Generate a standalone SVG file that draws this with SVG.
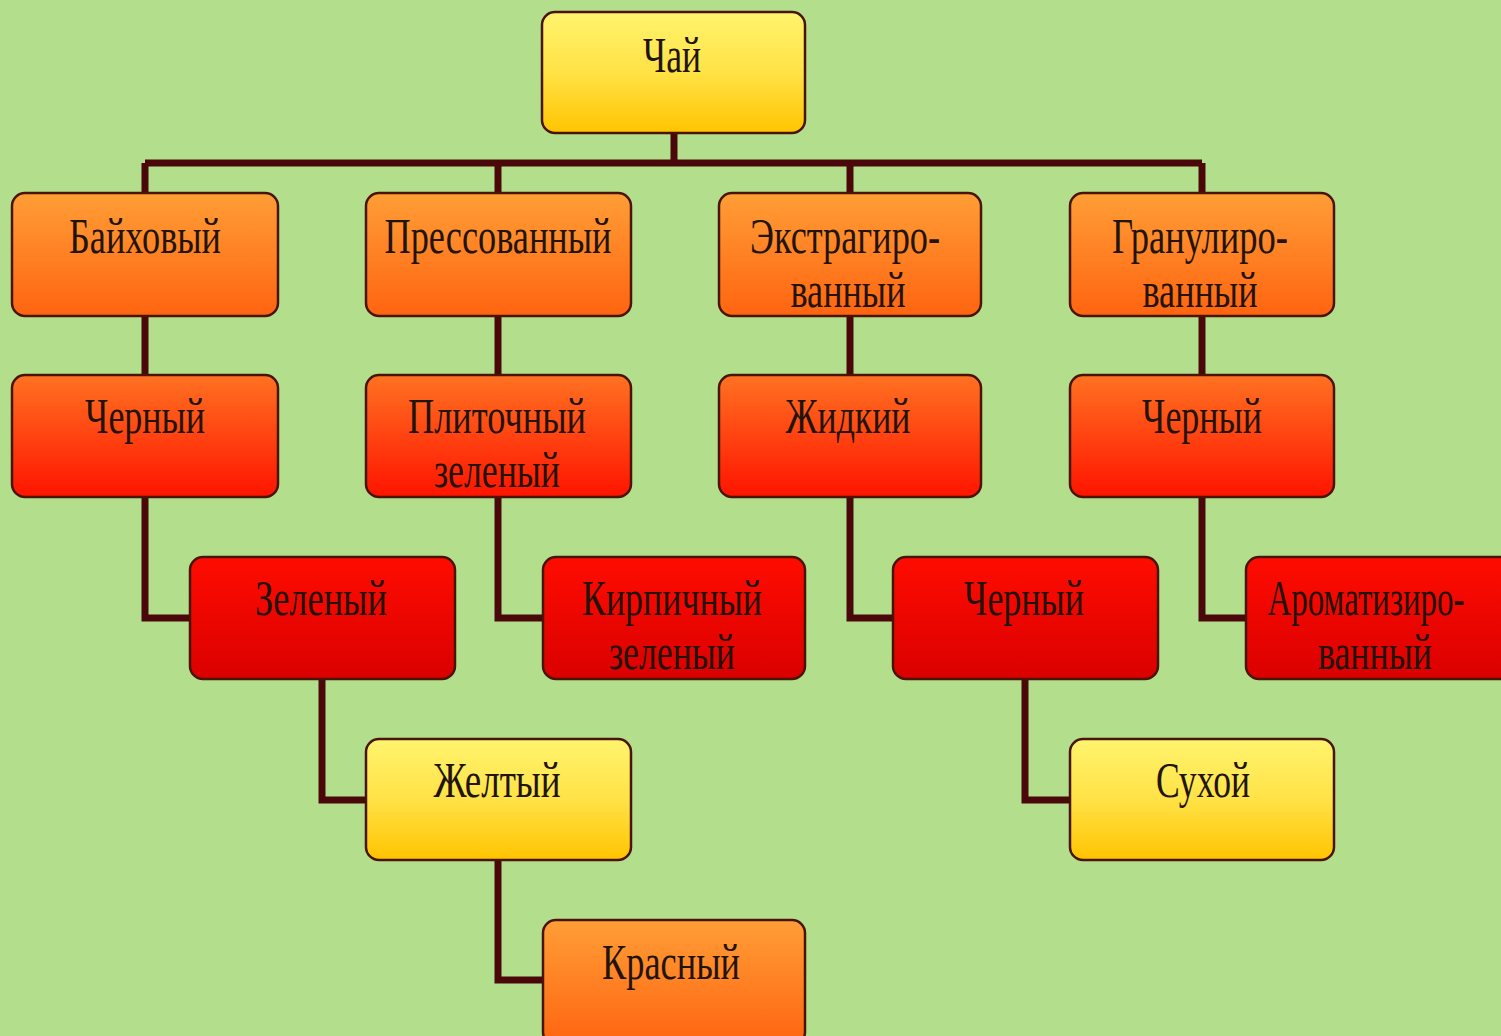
<svg xmlns="http://www.w3.org/2000/svg" width="1501" height="1036" viewBox="0 0 1501 1036">
<defs>
<linearGradient id="gY" x1="0" y1="0" x2="0" y2="1"><stop offset="0" stop-color="#fff46e"/><stop offset="0.5" stop-color="#ffe246"/><stop offset="1" stop-color="#ffc400"/></linearGradient>
<linearGradient id="gO" x1="0" y1="0" x2="0" y2="1"><stop offset="0" stop-color="#ff9e36"/><stop offset="1" stop-color="#ff6410"/></linearGradient>
<linearGradient id="gR1" x1="0" y1="0" x2="0" y2="1"><stop offset="0" stop-color="#ff7222"/><stop offset="1" stop-color="#ff1400"/></linearGradient>
<linearGradient id="gR2" x1="0" y1="0" x2="0" y2="1"><stop offset="0" stop-color="#ff0c00"/><stop offset="1" stop-color="#da0000"/></linearGradient>
</defs>
<style>
.b{stroke:#4a1404;stroke-width:2.5}
.y{fill:url(#gY)}.o{fill:url(#gO)}.r1{fill:url(#gR1)}.r2{fill:url(#gR2)}
text{font-family:"Liberation Serif","DejaVu Serif",serif;font-size:50px;fill:#22140a;text-anchor:middle}
.c{fill:none;stroke:#4a080a;stroke-width:7}
</style>
<rect width="1501" height="1036" fill="#b3de8c"/>
<g id="connectors">
<path class="c" d="M674 133V163M145 163H1202M145 163V193M498 163V193M850 163V193M1202 163V193"/>
<path class="c" d="M145 316V375M498 316V375M850 316V375M1202 316V375"/>
<path class="c" d="M145 497V618H190M498 497V618H543M850 497V618H893M1202 497V618H1246"/>
<path class="c" d="M322 679V800H366M1025 679V800H1070M498 860V980H543"/>
</g>
<g id="n-chai"><rect class="b y" x="542" y="12" width="263" height="121" rx="13"/><text x="672" y="72" textLength="58" lengthAdjust="spacingAndGlyphs">Чай</text></g>
<g id="n-baikh"><rect class="b o" x="12" y="193" width="266" height="123" rx="13"/><text x="145" y="253" textLength="152" lengthAdjust="spacingAndGlyphs">Байховый</text></g>
<g id="n-press"><rect class="b o" x="366" y="193" width="265" height="123" rx="13"/><text x="498" y="253" textLength="227" lengthAdjust="spacingAndGlyphs">Прессованный</text></g>
<g id="n-extr"><rect class="b o" x="719" y="193" width="262" height="123" rx="13"/><text x="845" y="253" textLength="190" lengthAdjust="spacingAndGlyphs">Экстрагиро-</text><text x="848" y="307" textLength="115" lengthAdjust="spacingAndGlyphs">ванный</text></g>
<g id="n-gran"><rect class="b o" x="1070" y="193" width="264" height="123" rx="13"/><text x="1200" y="253" textLength="176" lengthAdjust="spacingAndGlyphs">Гранулиро-</text><text x="1200" y="307" textLength="115" lengthAdjust="spacingAndGlyphs">ванный</text></g>
<g id="n-cherA"><rect class="b r1" x="12" y="375" width="266" height="122" rx="13"/><text x="145" y="433" textLength="120" lengthAdjust="spacingAndGlyphs">Черный</text></g>
<g id="n-plit"><rect class="b r1" x="366" y="375" width="265" height="122" rx="13"/><text x="497" y="433" textLength="178" lengthAdjust="spacingAndGlyphs">Плиточный</text><text x="497" y="487" textLength="126" lengthAdjust="spacingAndGlyphs">зеленый</text></g>
<g id="n-zhid"><rect class="b r1" x="719" y="375" width="262" height="122" rx="13"/><text x="848" y="433" textLength="125" lengthAdjust="spacingAndGlyphs">Жидкий</text></g>
<g id="n-cherD"><rect class="b r1" x="1070" y="375" width="264" height="122" rx="13"/><text x="1202" y="433" textLength="120" lengthAdjust="spacingAndGlyphs">Черный</text></g>
<g id="n-zel"><rect class="b r2" x="190" y="557" width="265" height="122" rx="13"/><text x="321" y="615" textLength="132" lengthAdjust="spacingAndGlyphs">Зеленый</text></g>
<g id="n-kirp"><rect class="b r2" x="543" y="557" width="262" height="122" rx="13"/><text x="672" y="615" textLength="180" lengthAdjust="spacingAndGlyphs">Кирпичный</text><text x="672" y="669" textLength="126" lengthAdjust="spacingAndGlyphs">зеленый</text></g>
<g id="n-cherC"><rect class="b r2" x="893" y="557" width="265" height="122" rx="13"/><text x="1024" y="615" textLength="120" lengthAdjust="spacingAndGlyphs">Черный</text></g>
<g id="n-arom"><rect class="b r2" x="1246" y="557" width="268" height="122" rx="13"/><text x="1366" y="615" textLength="197" lengthAdjust="spacingAndGlyphs">Ароматизиро-</text><text x="1375" y="669" textLength="114" lengthAdjust="spacingAndGlyphs">ванный</text></g>
<g id="n-zhel"><rect class="b y" x="366" y="739" width="265" height="121" rx="13"/><text x="497" y="797" textLength="127" lengthAdjust="spacingAndGlyphs">Желтый</text></g>
<g id="n-sukh"><rect class="b y" x="1070" y="739" width="264" height="121" rx="13"/><text x="1203" y="797" textLength="94" lengthAdjust="spacingAndGlyphs">Сухой</text></g>
<g id="n-kras"><rect class="b o" x="543" y="920" width="262" height="125" rx="13"/><text x="671" y="979" textLength="138" lengthAdjust="spacingAndGlyphs">Красный</text></g>
</svg>
